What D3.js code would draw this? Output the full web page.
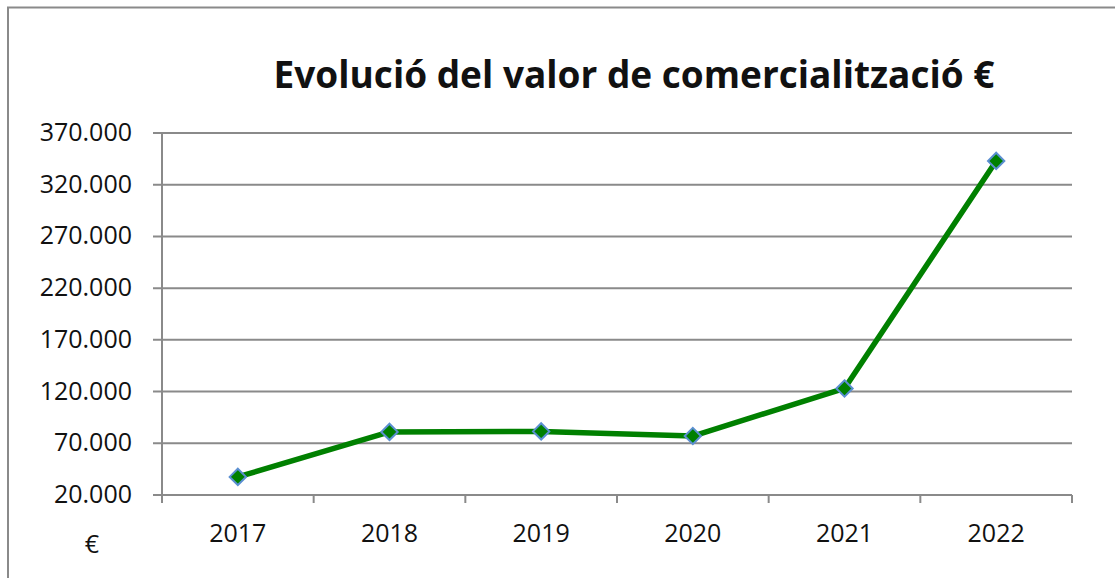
<!DOCTYPE html>
<html>
<head>
<meta charset="utf-8">
<script src="https://cdn.jsdelivr.net/npm/d3@7"></script>
<style>
  body { margin: 0; background: #fff; }
  text { font-family: "Open Sans", "Noto Sans", sans-serif; fill: #111; }
</style>
</head>
<body>
<svg></svg>
<script>
var w = 1115, h = 578;

// data
var years = ["2017", "2018", "2019", "2020", "2021", "2022"];
var valors = [37500, 81000, 81500, 77000, 123000, 343000];
var yTicks = [20000, 70000, 120000, 170000, 220000, 270000, 320000, 370000];

var svg = d3.select("svg").attr("width", w).attr("height", h);

// outer frame
svg.append("rect")
  .attr("x", 8).attr("y", 7.5)
  .attr("width", 1120).attr("height", 600)
  .attr("fill", "none").attr("stroke", "#8a8a8a").attr("stroke-width", 2);

var pLeft = 162, pRight = 1072, pTop = 133, pBottom = 495;

var x = d3.scaleBand().domain(years).range([pLeft, pRight]);
var y = d3.scaleLinear().domain([20000, 370000]).range([pBottom, pTop]);

var fmt = d => d3.format(",")(d).replace(/,/g, ".");

// gridlines + y ticks
svg.append("g").selectAll("line").data(yTicks).join("line")
  .attr("x1", pLeft - 9).attr("x2", pRight)
  .attr("y1", d => y(d)).attr("y2", d => y(d))
  .attr("stroke", "#8a8a8a").attr("stroke-width", 2);

svg.append("g").selectAll("text").data(yTicks).join("text")
  .attr("x", 132).attr("y", d => y(d) + 8)
  .attr("text-anchor", "end")
  .style("font-size", "25px")
  .text(fmt);

// y axis line
svg.append("line")
  .attr("x1", pLeft).attr("x2", pLeft).attr("y1", pTop).attr("y2", pBottom + 8)
  .attr("stroke", "#8a8a8a").attr("stroke-width", 2);

// x axis, ticks between categories
var xb = years.map(d => x(d)).concat([pRight]);
svg.append("g").selectAll("line").data(xb).join("line")
  .attr("x1", d => d).attr("x2", d => d)
  .attr("y1", pBottom).attr("y2", pBottom + 8)
  .attr("stroke", "#8a8a8a").attr("stroke-width", 2);

svg.append("g").selectAll("text").data(years).join("text")
  .attr("x", d => x(d) + x.bandwidth() / 2).attr("y", 542)
  .attr("text-anchor", "middle")
  .style("font-size", "25px")
  .text(d => d);

// line
var line = d3.line()
  .x((d, i) => x(years[i]) + x.bandwidth() / 2)
  .y(d => y(d));

svg.append("path").datum(valors)
  .attr("d", line)
  .attr("fill", "none").attr("stroke", "#008000").attr("stroke-width", 5.5)
  .attr("stroke-linejoin", "round");

svg.append("g").selectAll("path").data(valors).join("path")
  .attr("transform", (d, i) => "translate(" + (x(years[i]) + x.bandwidth() / 2) + "," + y(d) + ")")
  .attr("d", d3.symbol().type(d3.symbolDiamond2).size(170))
  .attr("fill", "#008000").attr("stroke", "#5b8fd1").attr("stroke-width", 2);

// title
svg.append("text")
  .attr("x", 634).attr("y", 88)
  .attr("text-anchor", "middle")
  .style("font-size", "37px").style("font-weight", "bold")
  .text("Evolució del valor de comercialització €");

// unit
svg.append("text")
  .attr("x", 92).attr("y", 553)
  .attr("text-anchor", "middle")
  .style("font-size", "25px")
  .text("€");
</script>
</body>
</html>
